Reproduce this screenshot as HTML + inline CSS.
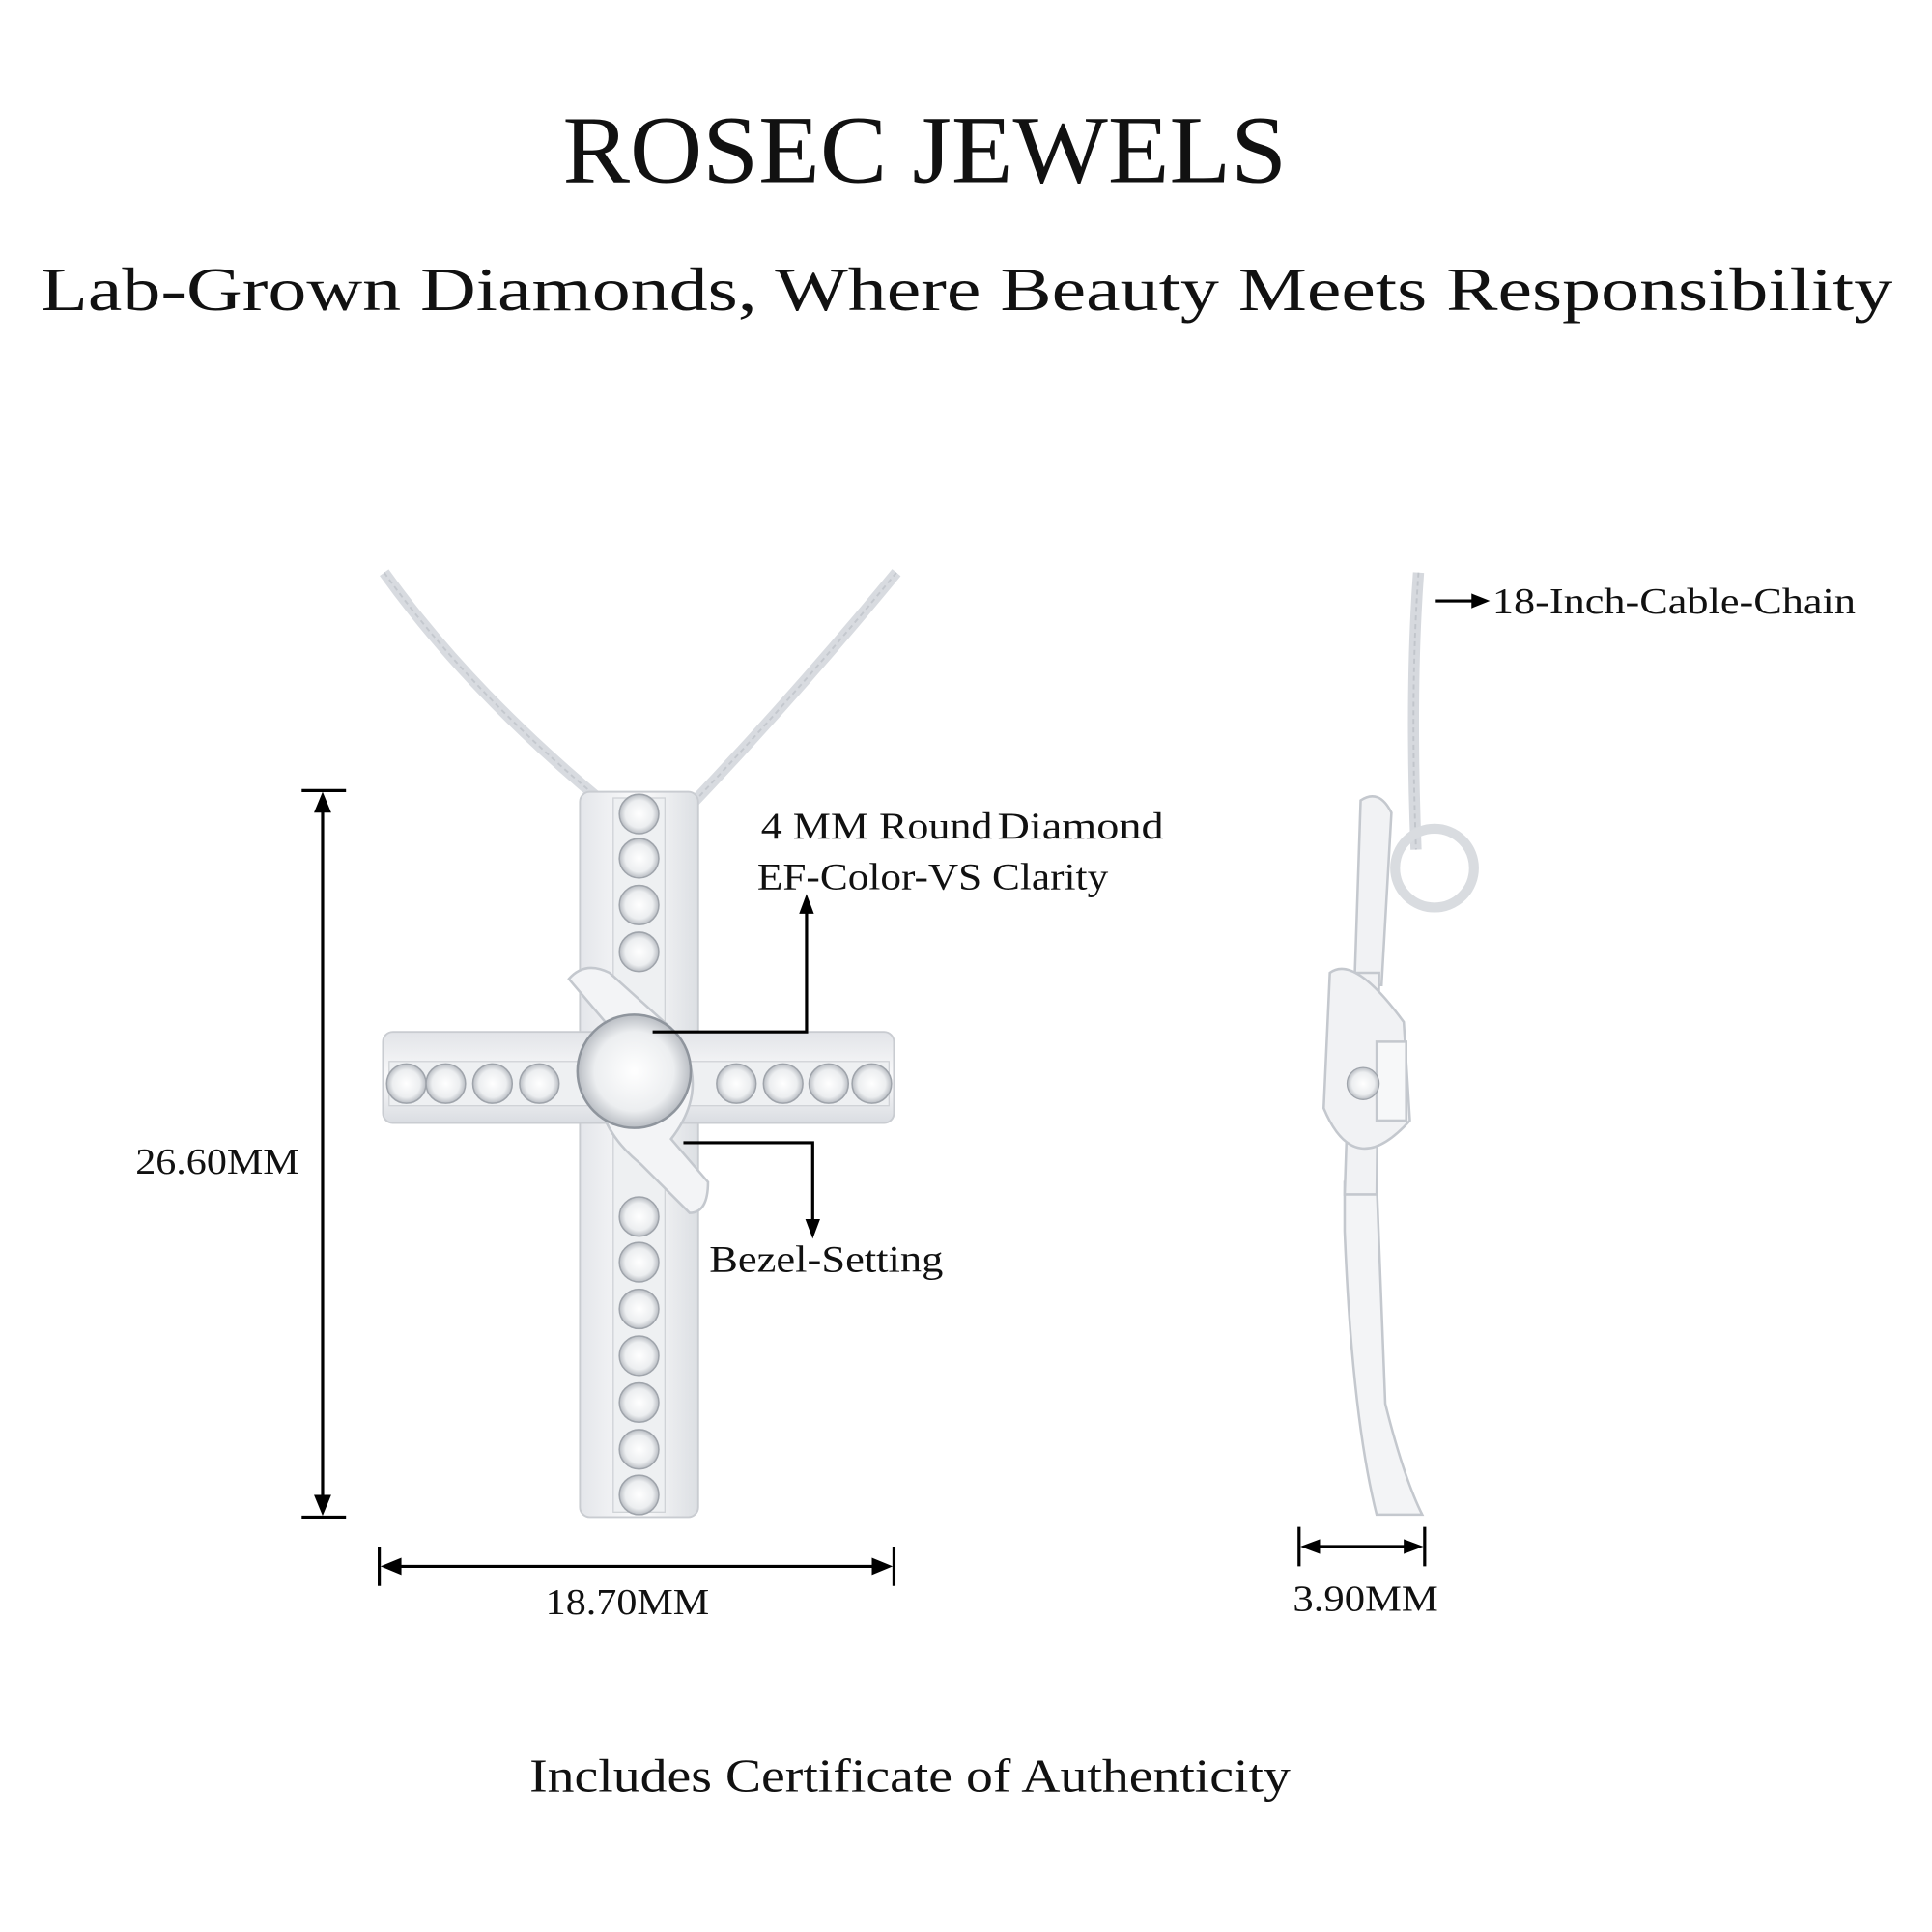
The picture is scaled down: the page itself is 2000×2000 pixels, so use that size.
<!DOCTYPE html>
<html><head><meta charset="utf-8"><style>
html,body{margin:0;padding:0;background:#fff;}
svg{display:block}
text{font-family:"Liberation Serif",serif;fill:#111}
</style></head><body>
<svg width="2000" height="2000" viewBox="0 0 1569 1569" xmlns="http://www.w3.org/2000/svg">
<defs>
<linearGradient id="m" x1="0" x2="1"><stop offset="0" stop-color="#e4e6ea"/><stop offset="0.5" stop-color="#fbfbfc"/><stop offset="1" stop-color="#dcdfe3"/></linearGradient>
<linearGradient id="mv" x1="0" y1="0" x2="0" y2="1"><stop offset="0" stop-color="#e2e4e8"/><stop offset="0.5" stop-color="#fafafb"/><stop offset="1" stop-color="#dadde2"/></linearGradient>
<radialGradient id="st"><stop offset="0" stop-color="#fff"/><stop offset="0.7" stop-color="#eceef0"/><stop offset="1" stop-color="#b9bdc3"/></radialGradient>
</defs>
<rect width="1569" height="1569" fill="#fff"/>
<text x="751" y="148" font-size="78" text-anchor="middle" textLength="588" lengthAdjust="spacingAndGlyphs">ROSEC JEWELS</text>
<text x="785" y="252" font-size="50" text-anchor="middle" textLength="1504" lengthAdjust="spacingAndGlyphs">Lab-Grown Diamonds, Where Beauty Meets Responsibility</text>

<g fill="none" stroke="#d8dbe0" stroke-width="9">
<path d="M312 465 Q380 560 488 650"/>
<path d="M728 465 Q650 560 560 655"/>
</g>
<g fill="none" stroke="#c4c8ce" stroke-width="1.5" stroke-dasharray="4 3">
<path d="M312 465 Q380 560 488 650"/>
<path d="M728 465 Q650 560 560 655"/>
</g>

<rect x="471" y="643" width="96" height="589" rx="8" fill="url(#m)" stroke="#c9ccd1" stroke-width="1.5"/>
<rect x="311" y="838" width="415" height="74" rx="8" fill="url(#mv)" stroke="#c9ccd1" stroke-width="1.5"/>
<rect x="498" y="648" width="42" height="580" fill="#eef0f2" stroke="#cfd2d6"/>
<rect x="316" y="862" width="406" height="36" fill="#eef0f2" stroke="#cfd2d6"/>
<g fill="url(#st)" stroke="#9fa4ab" stroke-width="1.2">
<circle cx="519" cy="661" r="16"/><circle cx="519" cy="697" r="16"/><circle cx="519" cy="735" r="16"/><circle cx="519" cy="773" r="16"/>
<circle cx="519" cy="988" r="16"/><circle cx="519" cy="1025" r="16"/><circle cx="519" cy="1063" r="16"/><circle cx="519" cy="1101" r="16"/><circle cx="519" cy="1139" r="16"/><circle cx="519" cy="1177" r="16"/><circle cx="519" cy="1214" r="16"/>
<circle cx="330" cy="880" r="16"/><circle cx="362" cy="880" r="16"/><circle cx="400" cy="880" r="16"/><circle cx="438" cy="880" r="16"/>
<circle cx="598" cy="880" r="16"/><circle cx="636" cy="880" r="16"/><circle cx="673" cy="880" r="16"/><circle cx="708" cy="880" r="16"/>
</g>
<path d="M462 795 Q475 780 495 790 L545 835 Q580 880 545 925 L575 960 Q575 985 560 985 L520 945 Q465 900 500 840 Z" fill="#f3f4f6" stroke="#c4c8ce" stroke-width="2"/>
<circle cx="515" cy="870" r="46" fill="url(#st)" stroke="#8f959d" stroke-width="2"/>

<g stroke="#000" stroke-width="2.5" fill="none">
<path d="M530 838 H655 V735"/>
<path d="M555 928 H660 V996"/>
<path d="M262 652 V1222"/>
<path d="M245 642 H281 M245 1232 H281"/>
<path d="M318 1272 H716"/>
<path d="M308 1256 V1288 M726 1256 V1288"/>
<path d="M1065 1256 H1147"/>
<path d="M1055 1240 V1272 M1157 1240 V1272"/>
<path d="M1166 488 H1200"/>
</g>
<g fill="#000">
<path d="M655 726 L649 742 L661 742 Z"/>
<path d="M660 1006 L654 990 L666 990 Z"/>
<path d="M262 643 L255 660 L269 660 Z"/>
<path d="M262 1231 L255 1214 L269 1214 Z"/>
<path d="M309 1272 L326 1265 L326 1279 Z"/>
<path d="M725 1272 L708 1265 L708 1279 Z"/>
<path d="M1056 1256 L1072 1250 L1072 1262 Z"/>
<path d="M1156 1256 L1140 1250 L1140 1262 Z"/>
<path d="M1210 488 L1195 482 L1195 494 Z"/>
</g>

<g fill="none" stroke="#d6d9de" stroke-width="9">
<path d="M1152 465 Q1145 560 1150 690"/>
</g>
<path d="M1152 465 Q1145 560 1150 690" fill="none" stroke="#c1c5cb" stroke-width="1.5" stroke-dasharray="4 3"/>
<circle cx="1165" cy="705" r="32" fill="none" stroke="#d9dce0" stroke-width="8"/>
<path d="M1092 960 L1118 960 L1125 1140 Q1140 1200 1155 1230 L1118 1230 Q1098 1150 1092 1000 Z" fill="#f3f4f6" stroke="#c4c8ce" stroke-width="2"/>
<path d="M1105 650 Q1120 640 1130 660 L1122 800 L1100 800 Z" fill="#f1f2f4" stroke="#c4c8ce" stroke-width="2"/>
<path d="M1098 790 L1120 790 L1118 970 L1092 970 Z" fill="#f1f2f4" stroke="#c4c8ce" stroke-width="2"/>
<path d="M1080 790 Q1100 775 1140 830 L1145 910 Q1100 960 1075 900 Z" fill="#f1f2f4" stroke="#c4c8ce" stroke-width="2"/>
<rect x="1118" y="846" width="24" height="64" fill="#f7f8f9" stroke="#c4c8ce" stroke-width="2"/>
<circle cx="1107" cy="880" r="13" fill="url(#st)" stroke="#9fa4ab"/>

<text x="618" y="681" font-size="31" textLength="188" lengthAdjust="spacingAndGlyphs">4 MM Round</text>
<text x="810" y="681" font-size="31" textLength="135" lengthAdjust="spacingAndGlyphs">Diamond</text>
<text x="615" y="722" font-size="31" textLength="285" lengthAdjust="spacingAndGlyphs">EF-Color-VS  Clarity</text>
<text x="576" y="1033" font-size="31" textLength="190" lengthAdjust="spacingAndGlyphs">Bezel-Setting</text>
<text x="110" y="953" font-size="30" textLength="133" lengthAdjust="spacingAndGlyphs">26.60MM</text>
<text x="443" y="1311" font-size="30" textLength="133" lengthAdjust="spacingAndGlyphs">18.70MM</text>
<text x="1050" y="1308" font-size="30" textLength="118" lengthAdjust="spacingAndGlyphs">3.90MM</text>
<text x="1212" y="498" font-size="30" textLength="295" lengthAdjust="spacingAndGlyphs">18-Inch-Cable-Chain</text>
<text x="739" y="1455" font-size="38" text-anchor="middle" textLength="618" lengthAdjust="spacingAndGlyphs">Includes Certificate of Authenticity</text>
</svg>
</body></html>
